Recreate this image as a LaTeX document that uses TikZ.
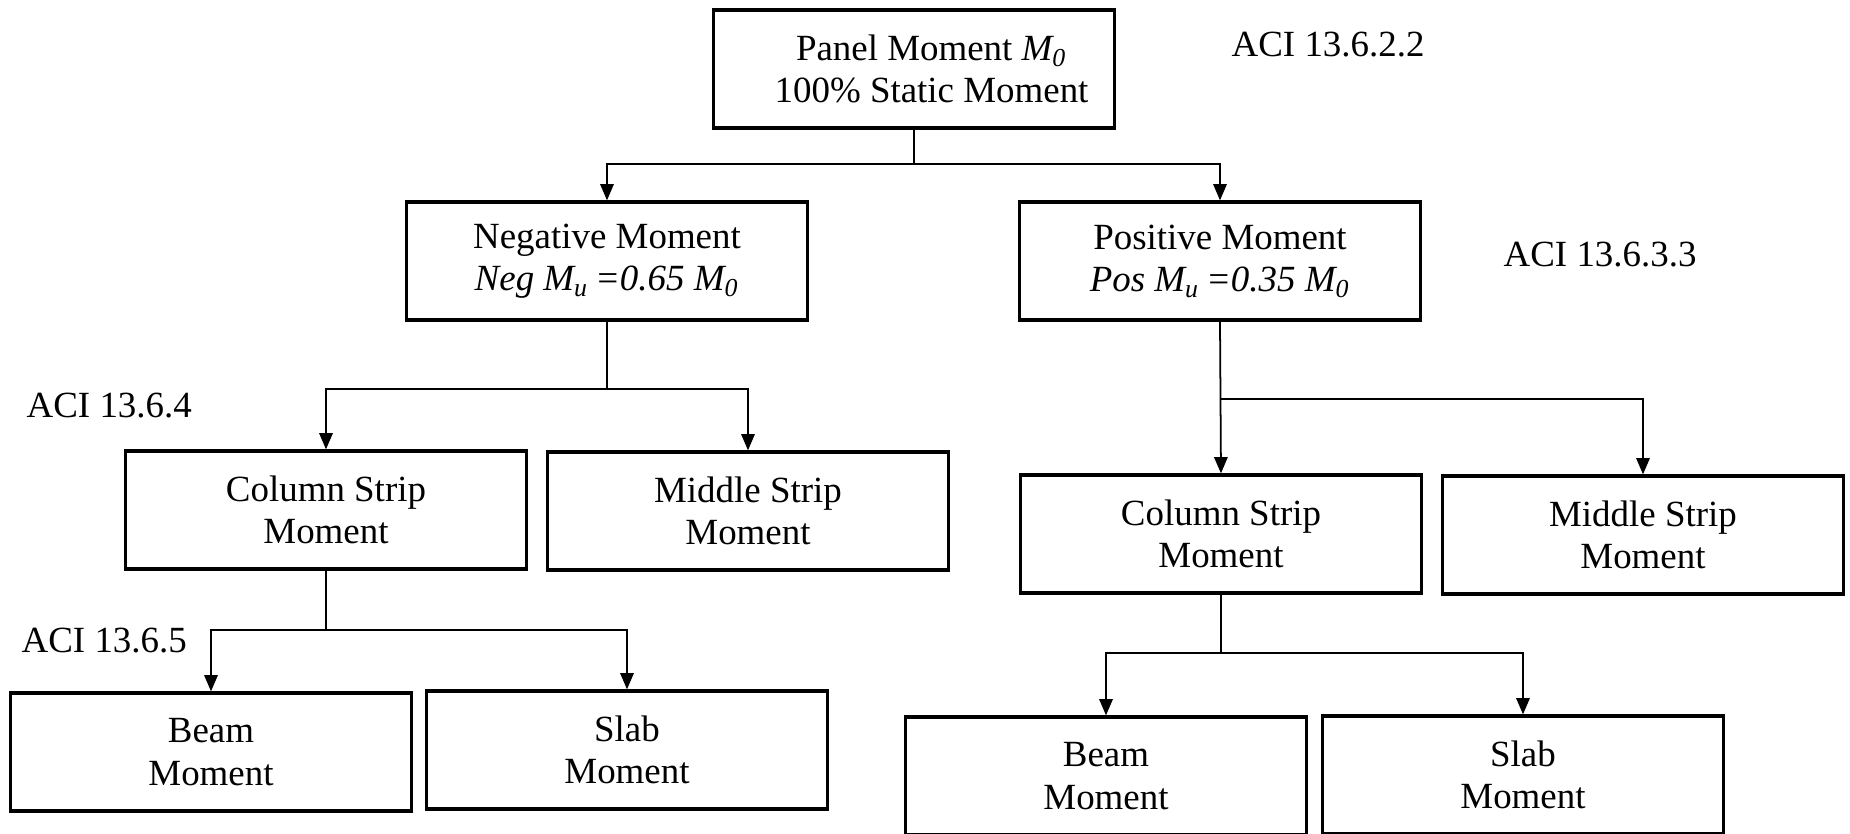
\documentclass[tikz,border=0pt]{standalone}
\usepackage{fontspec}
\setmainfont{Liberation Serif}
\usetikzlibrary{positioning,arrows.meta}
\tikzset{
  mbox/.style={draw, line width=0.9pt, minimum width=4cm, minimum height=1.18cm,
    align=center, inner sep=2pt, font=\fontsize{10.5}{12}\selectfont},
  link/.style={line width=0.5pt},
  flow/.style={link, -{Triangle[length=4.6pt,width=3.8pt]}},
  aci/.style={anchor=west, inner sep=0pt, font=\fontsize{10.5}{12}\selectfont},
}
\newcommand{\Mo}{\textit{M\textsubscript{0}}}
\newcommand{\Mu}{\textit{M\textsubscript{u}}}
\begin{document}
\begin{tikzpicture}[x=0.01cm,y=-0.01cm]
  \useasboundingbox (0,0) rectangle (1850,834);
  % total static moment
  \node[mbox] (panel) at (914,69) {\hspace*{10pt}Panel Moment \Mo\\\hspace*{10pt}100\% Static Moment};
  \node[mbox] (neg) at (607,261) {Negative Moment\\\textit{Neg} \Mu\,\textit{=0.65} \Mo};
  \node[mbox] (pos) at (1220,261) {Positive Moment\\\textit{Pos} \Mu\,\textit{=0.35} \Mo};
  % negative side
  \node[mbox] (lcol) at (326,510) {Column Strip\\Moment};
  \node[mbox] (lmid) at (748,511) {Middle Strip\\Moment};
  \node[mbox] (lbeam) at (211,752) {Beam\\Moment};
  \node[mbox] (lslab) at (627,750) {Slab\\Moment};
  % positive side
  \node[mbox] (rcol) at (1221,534) {Column Strip\\Moment};
  \node[mbox] (rmid) at (1643,535) {Middle Strip\\Moment};
  \node[mbox] (rbeam) at (1106,776) {Beam\\Moment};
  \node[mbox] (rslab) at (1523,775) {Slab\\Moment};
  % code references
  \node[aci] (c1) at (1231,45) {ACI 13.6.2.2};
  \node[aci] (c2) at (1503,255) {ACI 13.6.3.3};
  \node[aci] (c3) at (26,406) {ACI 13.6.4};
  \node[aci] (c4) at (21,641) {ACI 13.6.5};
  % connectors
  \coordinate (j1) at (panel.south |- 0,164);
  \coordinate (j2) at (neg.south |- 0,389);
  \coordinate (j3) at (lcol.south |- 0,630);
  \coordinate (j4) at (pos.south |- 0,399);
  \coordinate (j5) at (rcol.south |- 0,653);
  \draw[link] (panel.south) -- (j1);
  \draw[flow] (j1) -| (neg.north);
  \draw[flow] (j1) -| (pos.north);
  \draw[link] (neg.south) -- (j2);
  \draw[flow] (j2) -| (lcol.north);
  \draw[flow] (j2) -| (lmid.north);
  \draw[link] (lcol.south) -- (j3);
  \draw[flow] (j3) -| (lbeam.north);
  \draw[flow] (j3) -| (lslab.north);
  \draw[flow] (pos.south) -- (rcol.north);
  \draw[flow] (j4) -| (rmid.north);
  \draw[link] (rcol.south) -- (j5);
  \draw[flow] (j5) -| (rbeam.north);
  \draw[flow] (j5) -| (rslab.north);
\end{tikzpicture}
\end{document}
